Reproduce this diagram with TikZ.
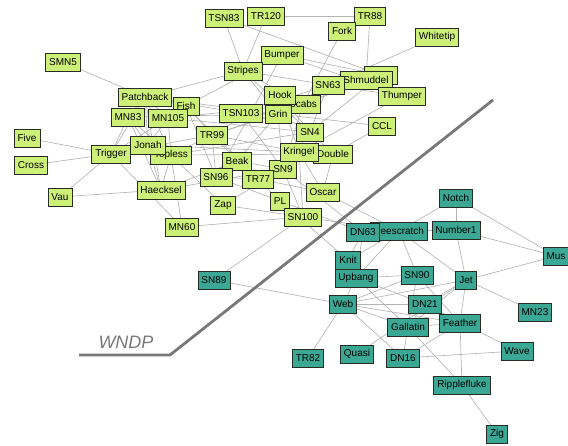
\documentclass[tikz,border=0pt]{standalone}
\usepackage{fontspec}
\setmainfont{Liberation Sans}
\definecolor{gfill}{RGB}{205,240,120}
\definecolor{tfill}{RGB}{58,168,148}
\definecolor{bordc}{RGB}{40,45,35}
\definecolor{edgec}{RGB}{180,180,180}
\definecolor{wcol}{RGB}{120,120,120}
\pgfdeclarelayer{edgelayer}
\pgfsetlayers{edgelayer,main}
\begin{document}
\begin{tikzpicture}[x=1pt,y=-1pt,
  dn/.style={draw=bordc, line width=0.8pt, minimum height=18pt, inner xsep=3.5pt, inner ysep=0pt, font=\fontsize{10}{12}\selectfont, anchor=center},
  gr/.style={dn, fill=gfill},
  tl/.style={dn, fill=tfill},
  ed/.style={draw=edgec, line width=0.65pt}]
\useasboundingbox (0,0) rectangle (568,445);
% green nodes
\node[gr] (SMN5) at (63,62) {SMN5};
\node[gr] (Fish) at (186,106) {Fish};
\node[gr] (Patchback) at (145,97) {Patchback};
\node[gr] (MN83) at (128,117) {MN83};
\node[gr] (MN105) at (168,118) {MN105};
\node[gr] (Five) at (27,138) {Five};
\node[gr] (Topless) at (171,155) {Topless};
\node[gr] (Jonah) at (148,145) {Jonah};
\node[gr] (Trigger) at (111,154) {Trigger};
\node[gr] (Cross) at (31,165) {Cross};
\node[gr] (Vau) at (60,197) {Vau};
\node[gr] (Haecksel) at (161,190) {Haecksel};
\node[gr] (MN60) at (182,227) {MN60};
\node[gr] (TSN83) at (224,18) {TSN83};
\node[gr] (TR120) at (266,16) {TR120};
\node[gr] (TR88) at (370,16) {TR88};
\node[gr] (Fork) at (342,31) {Fork};
\node[gr] (Whitetip) at (437,37) {Whitetip};
\node[gr] (Bumper) at (282,55) {Bumper};
\node[gr] (Stripes) at (243,71) {Stripes};
\node[gr, minimum width=33pt] (Zipfel) at (381,75) {};
\node[gr] (Shmuddel) at (366,80) {Shmuddel};
\node[gr] (SN63) at (328,85) {SN63};
\node[gr] (Thumper) at (402,96) {Thumper};
\node[gr] (CCL) at (382,126) {CCL};
\node[gr] (Scabs) at (303,104) {Scabs};
\node[gr] (Hook) at (280,95) {Hook};
\node[gr] (Grin) at (278,114) {Grin};
\node[gr] (TSN103) at (241,113) {TSN103};
\node[gr] (TR99) at (212,135) {TR99};
\node[gr] (SN4) at (310,132) {SN4};
\node[gr] (Double) at (333,154) {Double};
\node[gr] (SN9) at (283,169) {SN9};
\node[gr] (Kringel) at (299,152) {Kringel};
\node[gr] (Beak) at (237,161) {Beak};
\node[gr] (SN96) at (216,177) {SN96};
\node[gr] (TR77) at (258,179) {TR77};
\node[gr] (Zap) at (223,205) {Zap};
\node[gr] (PL) at (280,201) {PL};
\node[gr] (Oscar) at (323,192) {Oscar};
\node[gr] (SN100) at (303,217) {SN100};
% teal nodes
\node[tl] (Beescratch) at (399,231) {Beescratch};
\node[tl] (DN63) at (363,232) {DN63};
\node[tl] (Notch) at (456,198) {Notch};
\node[tl] (Number1) at (456,230) {Number1};
\node[tl] (Mus) at (556,256) {Mus};
\node[tl] (Knit) at (348,260) {Knit};
\node[tl] (Upbang) at (356,278) {Upbang};
\node[tl] (SN90) at (417,275) {SN90};
\node[tl] (Jet) at (466,280) {Jet};
\node[tl] (Web) at (343,304) {Web};
\node[tl] (SN89) at (214,280) {SN89};
\node[tl] (DN21) at (425,304) {DN21};
\node[tl] (MN23) at (535,312) {MN23};
\node[tl] (Gallatin) at (408,327) {Gallatin};
\node[tl] (Feather) at (460,323) {Feather};
\node[tl] (Quasi) at (357,354) {Quasi};
\node[tl] (DN16) at (403,358) {DN16};
\node[tl] (TR82) at (308,358) {TR82};
\node[tl] (Wave) at (517,351) {Wave};
\node[tl] (Ripplefluke) at (462,385) {Ripplefluke};
\node[tl] (Zig) at (497,434) {Zig};
% WNDP boundary
\coordinate (w1) at (79,355);
\coordinate (w2) at (170,355);
\coordinate (w3) at (493,100);
\node[text=wcol, font=\fontsize{18}{20}\selectfont\itshape] (wndp) at (126,342) {WNDP};
\begin{pgfonlayer}{edgelayer}
\foreach \a/\b in {Double/CCL, Feather/DN16, Feather/DN21, Fish/Beak, Fish/Bumper,
  Gallatin/DN16, Gallatin/DN21, Gallatin/Feather, Grin/Beak, Grin/CCL, Haecksel/Beak,
  Hook/Grin, Jet/Beescratch, Jet/DN21, Jet/Feather, Jet/Gallatin, Jonah/Haecksel,
  Knit/Beescratch, Knit/DN63, Kringel/Double, Kringel/Hook, Kringel/Jonah, MN105/Jonah,
  MN23/Jet, MN83/Grin, MN83/Haecksel, MN83/Jonah, Mus/Jet, Notch/Beescratch, Notch/Mus,
  Number1/Beescratch, Number1/DN63, Number1/Jet, Number1/Mus, Number1/Notch,
  Oscar/Beescratch, Oscar/Double, Oscar/Kringel,
  Patchback/Fish, Patchback/Grin, Patchback/Haecksel, Patchback/Jonah, Patchback/MN105, Patchback/MN83,
  PL/DN63, PL/Knit, Quasi/Jet, Ripplefluke/Feather, Ripplefluke/Gallatin,
  Scabs/Fork, Scabs/Grin, Scabs/Hook, Scabs/MN105, Shmuddel/Grin, Shmuddel/Scabs,
  SMN5/Patchback, SN100/Beescratch, SN100/Kringel, SN100/MN60,
  SN4/Double, SN4/Grin, SN4/Hook, SN4/MN105, SN63/Grin, SN63/Shmuddel, SN63/SN4,
  SN89/SN100, SN9/Beak, SN9/DN63, SN9/Grin, SN9/Haecksel, SN9/Scabs, SN9/SN100, SN9/SN4,
  SN90/Beescratch, SN90/Feather, SN90/Gallatin, SN96/Beak, SN96/Bumper, SN96/Fish, SN96/PL,
  Stripes/Grin, Stripes/Patchback, Stripes/Scabs, Stripes/SN4, Stripes/SN63,
  Thumper/Bumper, Thumper/Kringel, Thumper/Shmuddel, Thumper/SN63,
  Topless/Double, Topless/Haecksel, Topless/Jonah, Topless/MN105, Topless/MN60, Topless/MN83, Topless/Patchback, Topless/SN4,
  TR120/Stripes, TR77/Beak, TR77/Fish, TR77/Kringel, TR77/Oscar, TR77/PL, TR77/SN96,
  TR88/Shmuddel, TR88/TR120, TR99/Grin, TR99/Hook, TR99/Kringel, TR99/Scabs, TR99/SN96, TR99/Topless,
  Trigger/Cross, Trigger/Five, Trigger/Jonah, Trigger/MN105, Trigger/MN60, Trigger/MN83, Trigger/Patchback, Trigger/Topless, Trigger/TR99,
  TSN103/Grin, TSN103/Patchback, TSN103/SN63, TSN103/SN9, TSN83/Stripes,
  Upbang/Beescratch, Upbang/DN21, Upbang/DN63, Upbang/Gallatin, Upbang/Knit, Upbang/SN90,
  Vau/Haecksel, Vau/Trigger, Wave/DN16, Wave/DN21,
  Web/DN16, Web/DN21, Web/Feather, Web/Gallatin, Web/Jet, Web/SN89, Web/SN90, Web/TR82, Web/Upbang,
  Whitetip/SN63, Zig/Ripplefluke, Zipfel/Bumper, Zipfel/SN4, Zipfel/TSN83,
  Zap/Topless, Zap/SN9, Zap/SN100}
  \draw[ed] (\a.center) -- (\b.center);
\end{pgfonlayer}
\draw[wcol, line width=2.8pt] (w1) -- (w2) -- (w3);
\end{tikzpicture}
\end{document}
